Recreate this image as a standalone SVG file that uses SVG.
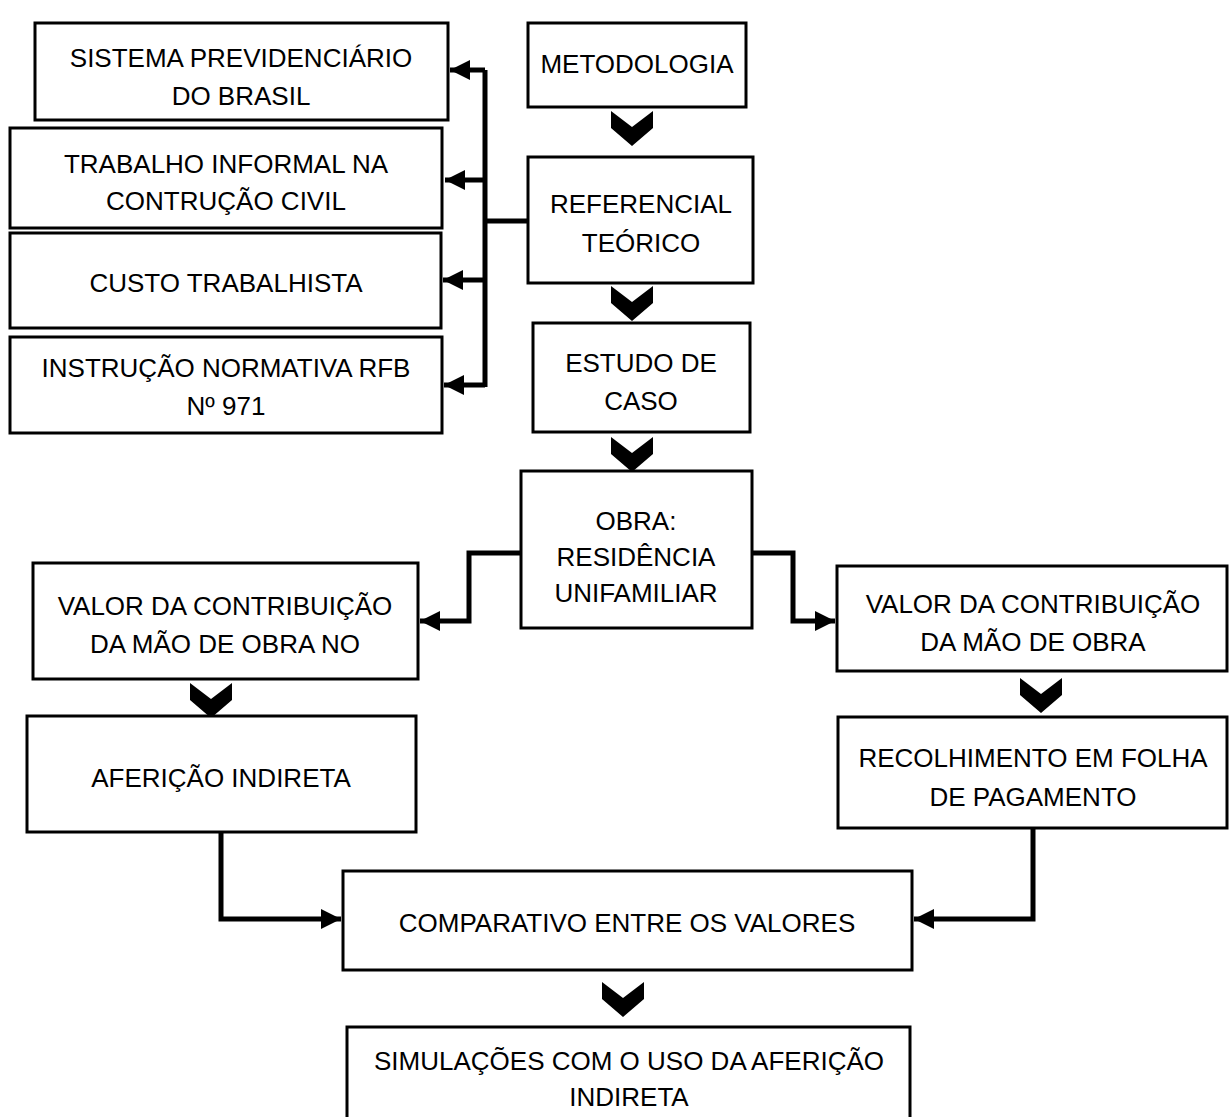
<svg xmlns="http://www.w3.org/2000/svg" width="1231" height="1117" viewBox="0 0 1231 1117">
<defs>
<style>
.box{fill:#fff;stroke:#000;stroke-width:3}
.t{font-family:"Liberation Sans",Arial,sans-serif;font-size:26px;fill:#000;text-anchor:middle}
.c{fill:none;stroke:#000;stroke-width:5;stroke-linejoin:miter}
.chev{fill:#000}
</style>
<marker id="ah" viewBox="0 0 10 10" refX="10" refY="5" markerWidth="4" markerHeight="4" markerUnits="strokeWidth" orient="auto">
<path d="M0,0 L10,5 L0,10 Z" fill="#000"/>
</marker>
<path id="chevron" d="M-21,0 L0,16 L21,0 L21,17 L0,35 L-21,17 Z"/>
</defs>
<rect width="1231" height="1117" fill="#fff"/>

<g id="connectors">
<path class="c" d="M528,221 H485"/>
<path class="c" d="M485,387 V70"/>
<path class="c" d="M485,70 H450" marker-end="url(#ah)"/>
<path class="c" d="M485,180 H445" marker-end="url(#ah)"/>
<path class="c" d="M485,280 H443" marker-end="url(#ah)"/>
<path class="c" d="M485,385 H444" marker-end="url(#ah)"/>
<path class="c" d="M521,553 H469 V621 H420" marker-end="url(#ah)"/>
<path class="c" d="M752,553 H793 V621 H835" marker-end="url(#ah)"/>
<path class="c" d="M221,832 V919 H341" marker-end="url(#ah)"/>
<path class="c" d="M1033,828 V919 H914" marker-end="url(#ah)"/>
<use href="#chevron" class="chev" x="632" y="111"/>
<use href="#chevron" class="chev" x="632" y="286"/>
<use href="#chevron" class="chev" x="632" y="437"/>
<use href="#chevron" class="chev" x="211" y="683"/>
<use href="#chevron" class="chev" x="1041" y="678"/>
<use href="#chevron" class="chev" x="623" y="982"/>
</g>

<g id="n-sistema"><rect class="box" x="35" y="23" width="413" height="97"/>
<text class="t" x="241" y="67">SISTEMA PREVIDENCIÁRIO</text><text class="t" x="241" y="105">DO BRASIL</text></g>
<g id="n-trabalho"><rect class="box" x="10" y="128" width="432" height="100"/>
<text class="t" x="226" y="173">TRABALHO INFORMAL NA</text><text class="t" x="226" y="210">CONTRUÇÃO CIVIL</text></g>
<g id="n-custo"><rect class="box" x="10" y="233" width="431" height="95"/>
<text class="t" x="226" y="292">CUSTO TRABALHISTA</text></g>
<g id="n-instrucao"><rect class="box" x="10" y="337" width="432" height="96"/>
<text class="t" x="226" y="377">INSTRUÇÃO NORMATIVA RFB</text><text class="t" x="226" y="415">Nº 971</text></g>
<g id="n-metodologia"><rect class="box" x="528" y="23" width="218" height="84"/>
<text class="t" x="637" y="73">METODOLOGIA</text></g>
<g id="n-referencial"><rect class="box" x="528" y="157" width="225" height="126"/>
<text class="t" x="641" y="213">REFERENCIAL</text><text class="t" x="641" y="252">TEÓRICO</text></g>
<g id="n-estudo"><rect class="box" x="533" y="323" width="217" height="109"/>
<text class="t" x="641" y="372">ESTUDO DE</text><text class="t" x="641" y="410">CASO</text></g>
<g id="n-obra"><rect class="box" x="521" y="471" width="231" height="157"/>
<text class="t" x="636" y="530">OBRA:</text><text class="t" x="636" y="566">RESIDÊNCIA</text><text class="t" x="636" y="602">UNIFAMILIAR</text></g>
<g id="n-valor-esq"><rect class="box" x="33" y="563" width="385" height="116"/>
<text class="t" x="225" y="615">VALOR DA CONTRIBUIÇÃO</text><text class="t" x="225" y="653">DA MÃO DE OBRA NO</text></g>
<g id="n-valor-dir"><rect class="box" x="837" y="566" width="390" height="105"/>
<text class="t" x="1033" y="613">VALOR DA CONTRIBUIÇÃO</text><text class="t" x="1033" y="651">DA MÃO DE OBRA</text></g>
<g id="n-afericao"><rect class="box" x="27" y="716" width="389" height="116"/>
<text class="t" x="221" y="787">AFERIÇÃO INDIRETA</text></g>
<g id="n-recolhimento"><rect class="box" x="838" y="717" width="389" height="111"/>
<text class="t" x="1033" y="767">RECOLHIMENTO EM FOLHA</text><text class="t" x="1033" y="806">DE PAGAMENTO</text></g>
<g id="n-comparativo"><rect class="box" x="343" y="871" width="569" height="99"/>
<text class="t" x="627" y="932">COMPARATIVO ENTRE OS VALORES</text></g>
<g id="n-simulacoes"><rect class="box" x="347" y="1027" width="563" height="100"/>
<text class="t" x="629" y="1070">SIMULAÇÕES COM O USO DA AFERIÇÃO</text><text class="t" x="629" y="1106">INDIRETA</text></g>
</svg>
